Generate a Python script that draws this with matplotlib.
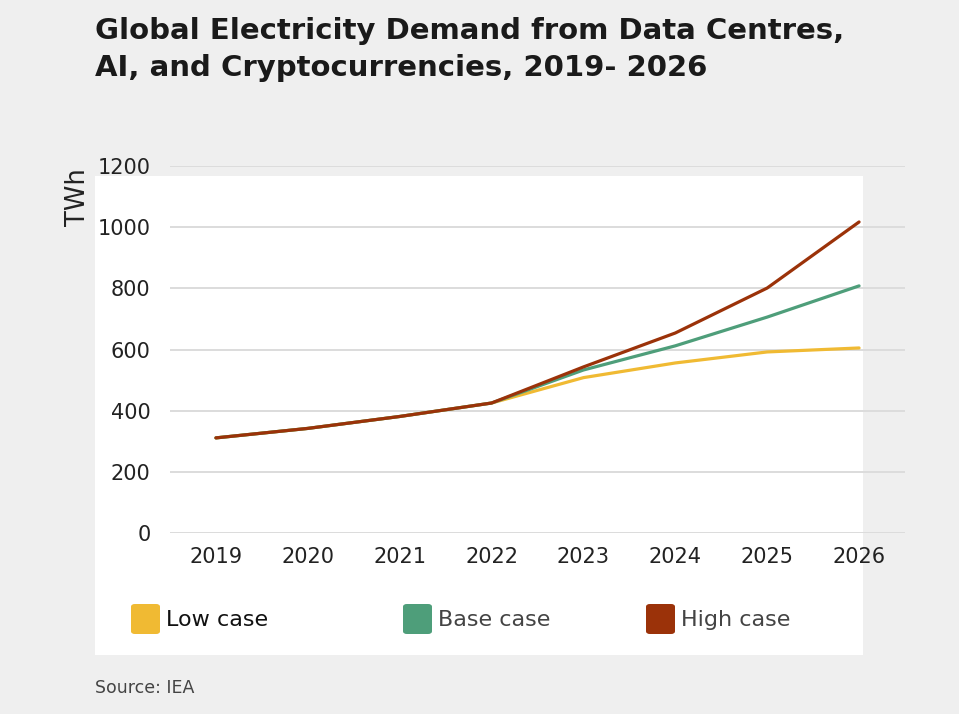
import matplotlib.pyplot as plt
from matplotlib.patches import Rectangle, FancyBboxPatch

years = [2019, 2020, 2021, 2022, 2023, 2024, 2025, 2026]
low_case = [311, 342, 381, 425, 508, 556, 592, 605]
base_case = [311, 342, 381, 425, 533, 612, 706, 808]
high_case = [311, 342, 381, 425, 543, 654, 801, 1017]

series_names = ['Low case', 'Base case', 'High case']
colors = ['#F0BA33', '#4E9E7A', '#9B3209']
y_ticks = [0, 200, 400, 600, 800, 1000, 1200]

plt.rcParams['font.family'] = ['DejaVu Sans']

fig = plt.figure(figsize=(9.59, 7.14), dpi=100)
fig.patch.set_facecolor('#efefef')

# white panel behind the chart
panel = Rectangle((95 / 959, 1 - 655 / 714), (863 - 95) / 959, (655 - 176) / 714,
                  transform=fig.transFigure, facecolor='white', edgecolor='none', zorder=-1)
fig.patches.append(panel)

ax = fig.add_axes([170 / 959, 1 - 533 / 714, 735 / 959, 367 / 714])
ax.set_facecolor('none')
ax.set_zorder(1)

for vals, color in zip([low_case, base_case, high_case], colors):
    ax.plot(years, vals, color=color, linewidth=2.3, solid_capstyle='round', solid_joinstyle='round', zorder=3)

ax.set_xlim(2018.5, 2026.5)
ax.set_ylim(0, 1200)
ax.set_yticks(y_ticks)
ax.set_xticks(years)
ax.grid(axis='y', color='#dcdcdc', linewidth=1.4)
ax.set_axisbelow(True)
for s in ax.spines.values():
    s.set_visible(False)
ax.tick_params(axis='both', length=0, labelsize=15, labelcolor='#222222')
ax.tick_params(axis='y', pad=14)
ax.tick_params(axis='x', pad=10)

fig.text(78 / 959, 1 - 197 / 714, 'TWh', rotation=90, ha='center', va='center', fontsize=18.5, color='#222222')

fig.text(95 / 959, 1 - 17 / 714, 'Global Electricity Demand from Data Centres,\nAI, and Cryptocurrencies, 2019- 2026',
         ha='left', va='top', fontsize=21, fontweight='bold', color='#1a1a1a', linespacing=1.42)

# legend
legend_x = [131, 403, 646]
for name, color, lx in zip(series_names, colors, legend_x):
    fig.patches.append(FancyBboxPatch((lx / 959, 1 - 634 / 714), 29 / 959, 30 / 714,
                                      boxstyle='round,pad=0,rounding_size=0.004',
                                      transform=fig.transFigure, facecolor=color, edgecolor='none'))
    fig.text((lx + 35) / 959, 1 - 620 / 714, name, ha='left', va='center', fontsize=16,
             color='#111111' if name == 'Low case' else '#444444')

fig.text(95 / 959, 1 - 688 / 714, 'Source: IEA', ha='left', va='center', fontsize=12.5, color='#444444')

fig.savefig('out.png', dpi=100, facecolor=fig.get_facecolor())
